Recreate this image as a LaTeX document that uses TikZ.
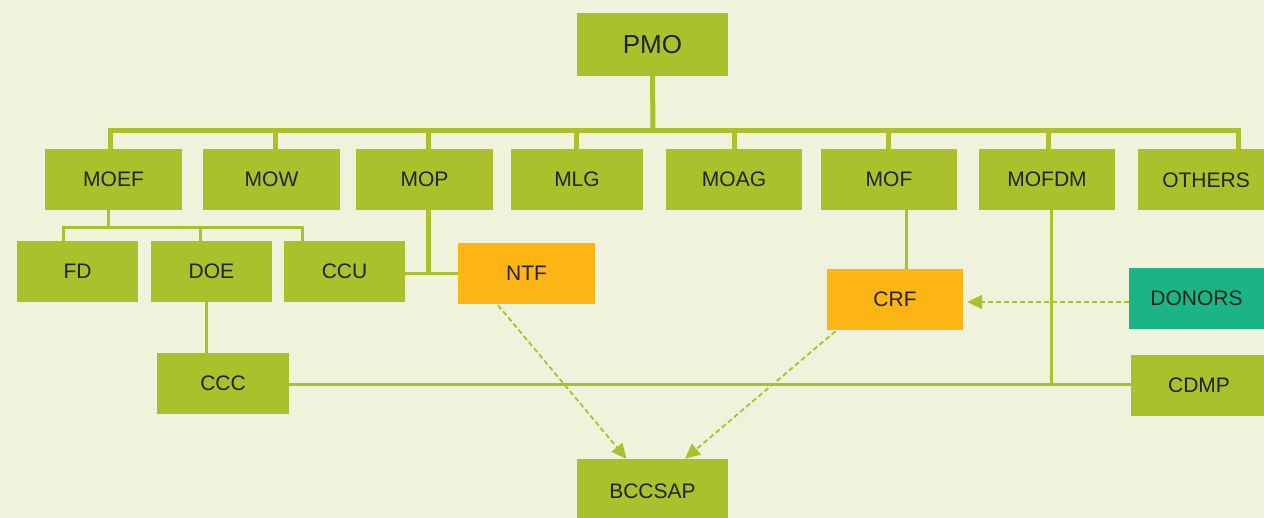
\documentclass[tikz,border=0pt]{standalone}
\usepackage{fontspec}
\setmainfont{Liberation Sans}
\usetikzlibrary{arrows.meta}
\definecolor{bg}{RGB}{239,243,220}
\definecolor{lime}{RGB}{170,193,43}
\definecolor{amber}{RGB}{253,181,21}
\definecolor{teal}{RGB}{27,181,133}
\definecolor{ink}{RGB}{34,34,30}
\tikzset{
  box/.style={fill=lime, inner sep=0pt, text=ink, font=\fontsize{21}{24}\selectfont, minimum height=61pt},
  obox/.style={box, fill=amber},
  tbox/.style={box, fill=teal},
  trunk/.style={draw=lime, line width=5pt},
  twig/.style={draw=lime, line width=3pt},
  flow/.style={draw=lime, line width=1.8pt, dash pattern=on 5pt off 3pt, -{Triangle[length=15pt,width=14pt]}},
}
\begin{document}
\begin{tikzpicture}[x=1pt,y=-1pt]
\fill[bg] (0,0) rectangle (1264,518);
\useasboundingbox (0,0) rectangle (1264,518);

% nodes
\node[box, minimum width=151, minimum height=63, font=\fontsize{26}{30}\selectfont] (pmo) at (652.5,44.5) {PMO};
\node[box, minimum width=137] (moef) at (113.5,179.5) {MOEF};
\node[box, minimum width=137] (mow) at (271.5,179.5) {MOW};
\node[box, minimum width=137] (mop) at (424.5,179.5) {MOP};
\node[box, minimum width=132] (mlg) at (577,179.5) {\raisebox{-2pt}{MLG}};
\node[box, minimum width=136] (moag) at (734,179.5) {\raisebox{-1pt}{MOAG}};
\node[box, minimum width=136] (mof) at (889,179.5) {\raisebox{-1pt}{MOF}};
\node[box, minimum width=136] (mofdm) at (1047,179.5) {\raisebox{-1pt}{MOFDM}};
\node[box, minimum width=136] (others) at (1206,180) {OTHERS};
\node[box, minimum width=121] (fd) at (77.5,271.5) {FD};
\node[box, minimum width=121] (doe) at (211.5,271.5) {DOE};
\node[box, minimum width=121] (ccu) at (344.5,271.5) {CCU};
\node[obox, minimum width=137] (ntf) at (526.5,273.5) {NTF};
\node[box, minimum width=132] (ccc) at (223,383.5) {CCC};
\node[obox, minimum width=136] (crf) at (895,299.5) {CRF};
\node[tbox, minimum width=135] (donors) at (1196.5,298.5) {DONORS};
\node[box, minimum width=136] (cdmp) at (1199,385.5) {CDMP};
\node[box, minimum width=151, minimum height=64] (bccsap) at (652.5,491) {BCCSAP};

% main bus
\coordinate (bus) at (653,131);
\draw[trunk] (pmo.south) -- (bus);
\draw[trunk, line cap=rect] ([xshift=-3.5pt]moef.north |- bus) -- ([xshift=32pt]others.north |- bus);
\draw[trunk] ([xshift=-3.5pt]moef.north) -- ([xshift=-3.5pt]moef.north |- bus);
\draw[trunk] ([xshift=3.5pt]mow.north) -- ([xshift=3.5pt]mow.north |- bus);
\draw[trunk] ([xshift=3.5pt]mop.north) -- ([xshift=3.5pt]mop.north |- bus);
\draw[trunk] ([xshift=-1pt]mlg.north) -- ([xshift=-1pt]mlg.north |- bus);
\draw[trunk] (moag.north) -- (moag.north |- bus);
\draw[trunk] ([xshift=-1pt]mof.north) -- ([xshift=-1pt]mof.north |- bus);
\draw[trunk] ([xshift=1pt]mofdm.north) -- ([xshift=1pt]mofdm.north |- bus);
\draw[trunk] ([xshift=32pt,yshift=-4pt]others.north) -- ([xshift=32pt]others.north |- bus);

% MOEF branch
\coordinate (sub) at (108,227.5);
\draw[twig] ([xshift=-5.5pt]moef.south) -- (sub);
\draw[twig] ([xshift=-14.5pt]fd.north) |- (sub) -| ([xshift=-42.5pt]ccu.north);
\draw[twig] ([xshift=-11.5pt]doe.north) -- ([xshift=-11.5pt]doe.north |- sub);

% MOP to CCU / NTF
\draw[line width=4.5pt, draw=lime] ([xshift=4pt]mop.south) -- ([xshift=4pt]mop.south |- ntf.west);
\draw[twig] (ccu.east |- ntf.west) -- (ntf.west);

% DOE to CCC, CCC to CDMP, MOFDM stem
\draw[twig] ([xshift=-5pt]doe.south) -- ([xshift=-5pt]doe.south |- ccc.north);
\coordinate (low) at (700,385);
\draw[twig] (ccc.east |- low) -- (cdmp.west |- low);
\draw[twig] ([xshift=4pt]mofdm.south) -- ([xshift=4pt]mofdm.south |- low);

% MOF to CRF
\draw[twig] ([xshift=17pt]mof.south) -- ([xshift=17pt]mof.south |- crf.north);

% funding flows
\coordinate (dy) at (1000,302);
\draw[flow, shorten >=4pt] (donors.west |- dy) -- (crf.east |- dy);
\draw[flow] ([xshift=-28.5pt,yshift=-1pt]ntf.south) -- ([xshift=-26pt]bccsap.north);
\draw[flow] ([xshift=-59.5pt,yshift=-1pt]crf.south) -- ([xshift=32.5pt]bccsap.north);
\end{tikzpicture}
\end{document}
